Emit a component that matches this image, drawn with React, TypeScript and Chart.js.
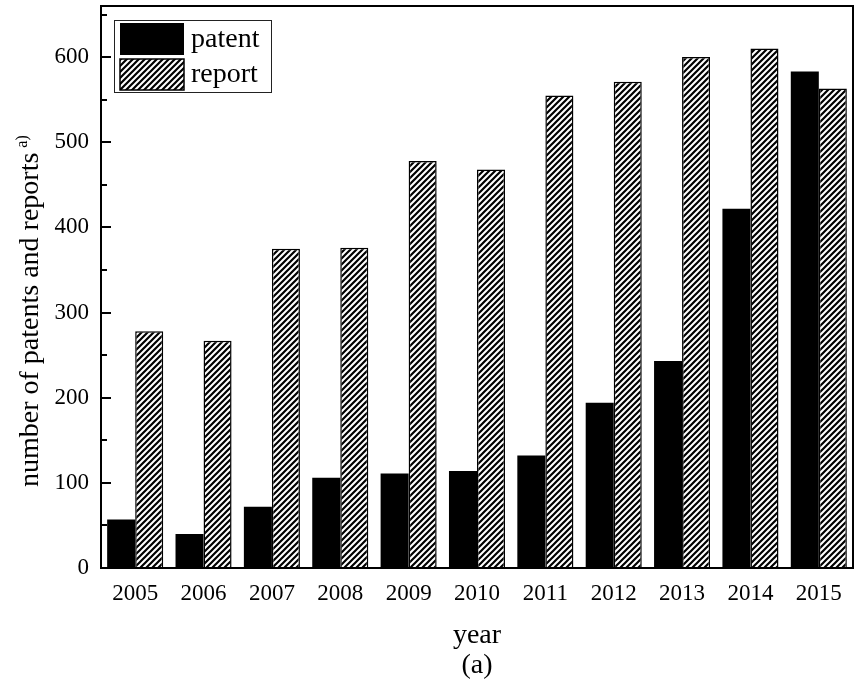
import React, { useEffect, useRef } from "react";
import { Chart, registerables } from "chart.js";

Chart.register(...registerables);

const years = ["2005", "2006", "2007", "2008", "2009", "2010", "2011", "2012", "2013", "2014", "2015"];
const patents = [57, 40, 72, 106, 111, 114, 132, 194, 243, 422, 583];
const reports = [278, 267, 375, 376, 478, 468, 555, 571, 600, 610, 563];
const seriesNames = ["patent", "report"];
const yTitle = "number of patents and reports";
const yTitleSup = "a)";
const xTitle = "year";
const caption = "(a)";

const SERIF = "'Liberation Serif', 'Times New Roman', serif";

function makeHatch(): CanvasPattern | string {
  const s = 6;
  const c = document.createElement("canvas");
  c.width = s;
  c.height = s;
  const g = c.getContext("2d");
  if (!g) return "#fff";
  g.fillStyle = "#fff";
  g.fillRect(0, 0, s, s);
  g.strokeStyle = "#000";
  g.lineWidth = 2.2;
  g.beginPath();
  g.moveTo(0, s);
  g.lineTo(s, 0);
  g.moveTo(-1, 1);
  g.lineTo(1, -1);
  g.moveTo(s - 1, s + 1);
  g.lineTo(s + 1, s - 1);
  g.stroke();
  const p = g.createPattern(c, "repeat");
  return p || "#fff";
}

export default function App() {
  const ref = useRef<HTMLCanvasElement>(null);

  useEffect(() => {
    const canvas = ref.current;
    if (!canvas) return;
    const hatch = makeHatch();

    const decor = {
      id: "decor",
      afterDraw(chart: any) {
        const ctx = chart.ctx;
        const a = chart.chartArea;
        const ys = chart.scales.y;
        ctx.save();
        // frame
        ctx.strokeStyle = "#000";
        ctx.lineWidth = 2;
        ctx.strokeRect(a.left, a.top, a.right - a.left, a.bottom - a.top);
        // inward ticks
        ctx.lineWidth = 2;
        for (let v = 0; v <= ys.max; v += 50) {
          const y = Math.round(ys.getPixelForValue(v));
          const len = v % 100 === 0 ? 10 : 6;
          ctx.beginPath();
          ctx.moveTo(a.left, y);
          ctx.lineTo(a.left + len, y);
          ctx.stroke();
        }
        // y title
        ctx.fillStyle = "#000";
        ctx.save();
        ctx.translate(38, 487);
        ctx.rotate(-Math.PI / 2);
        ctx.font = `28px ${SERIF}`;
        ctx.textAlign = "left";
        ctx.textBaseline = "alphabetic";
        ctx.fillText(yTitle, 0, 0);
        const w = ctx.measureText(yTitle).width;
        ctx.font = `16px ${SERIF}`;
        ctx.fillText(yTitleSup, w + 5, -11);
        ctx.restore();
        // x titles
        ctx.textAlign = "center";
        ctx.textBaseline = "middle";
        ctx.font = `28px ${SERIF}`;
        const cx = (a.left + a.right) / 2;
        ctx.fillText(xTitle, cx, 636);
        ctx.fillText(caption, cx, 666);
        // legend
        ctx.lineWidth = 1;
        ctx.strokeStyle = "#222";
        ctx.strokeRect(114.5, 20.5, 157, 72);
        ctx.fillStyle = "#000";
        ctx.fillRect(120, 23, 64, 32);
        ctx.fillStyle = hatch as any;
        ctx.fillRect(120, 59, 64, 31);
        ctx.lineWidth = 1.5;
        ctx.strokeStyle = "#000";
        ctx.strokeRect(120, 59, 64, 31);
        ctx.fillStyle = "#000";
        ctx.textAlign = "left";
        ctx.font = `28px ${SERIF}`;
        ctx.fillText(seriesNames[0], 191, 40);
        ctx.fillText(seriesNames[1], 191, 75);
        ctx.restore();
      },
    };

    const chart = new Chart(canvas, {
      type: "bar",
      data: {
        labels: years,
        datasets: [
          {
            label: seriesNames[0],
            data: patents,
            backgroundColor: "#000",
            borderColor: "#000",
            borderWidth: 0,
            categoryPercentage: 0.82,
            barPercentage: 1.0,
          },
          {
            label: seriesNames[1],
            data: reports,
            backgroundColor: hatch as any,
            borderColor: "#000",
            borderWidth: 1.5,
            categoryPercentage: 0.82,
            barPercentage: 1.0,
          },
        ],
      },
      options: {
        responsive: false,
        animation: false,
        devicePixelRatio: 1,
        layout: { padding: { top: 6, right: 2, left: 0, bottom: 0 } },
        plugins: {
          legend: { display: false },
          tooltip: { enabled: false },
          title: { display: false },
        },
        scales: {
          x: {
            grid: { display: false, drawTicks: false },
            border: { display: false },
            ticks: {
              color: "#000",
              padding: 12,
              font: { family: SERIF, size: 23 },
              maxRotation: 0,
              autoSkip: false,
            },
            afterFit(scale: any) {
              scale.height = 123;
              scale.paddingLeft = 0;
              scale.paddingRight = 0;
            },
          },
          y: {
            min: 0,
            max: 660,
            grid: { display: false, drawTicks: false },
            border: { display: false },
            ticks: {
              stepSize: 50,
              color: "#000",
              padding: 12,
              font: { family: SERIF, size: 23 },
              callback: (v: any) => (Number(v) % 100 === 0 ? String(v) : ""),
            },
            afterFit(scale: any) {
              scale.width = 101;
              scale.paddingTop = 0;
              scale.paddingBottom = 0;
            },
          },
        },
      },
      plugins: [decor],
    });

    return () => chart.destroy();
  }, []);

  return (
    <div style={{ position: "absolute", left: 0, top: 0, width: 855, height: 691, background: "#fff" }}>
      <canvas ref={ref} width={855} height={691} style={{ display: "block" }} />
    </div>
  );
}
